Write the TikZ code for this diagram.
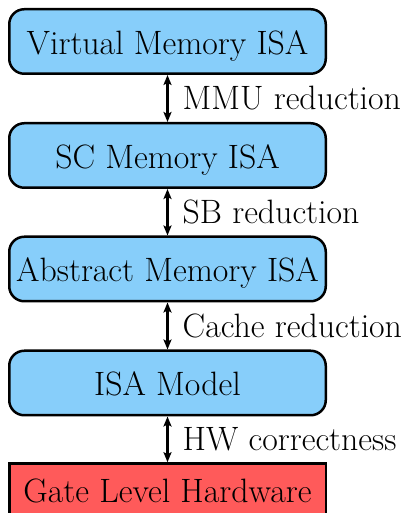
\documentclass[tikz,border=0pt]{standalone}
\usepackage{fontspec}
\usetikzlibrary{arrows.meta}
\definecolor{isablue}{RGB}{135,206,250}
\definecolor{hwred}{RGB}{255,90,90}
\newcommand{\bigtext}{\fontsize{33.8}{40}\selectfont}
\tikzset{
  isabox/.style={draw=black, line width=2.5pt, fill=isablue, rounded corners=15pt,
    minimum width=316.5pt, minimum height=64.5pt, inner sep=0pt, font=\bigtext,
    text height=31pt, text depth=5.4pt},
  hwbox/.style={draw=black, line width=2.5pt, fill=hwred,
    minimum width=316.5pt, inner sep=0pt, font=\bigtext,
    text height=31pt, text depth=13.4pt},
  link/.style={line width=2.2pt, {Stealth[length=10pt,width=8pt,inset=2pt]}-{Stealth[length=10pt,width=8pt,inset=2pt]}},
  steplabel/.style={anchor=west, inner sep=0pt, font=\bigtext}
}
\begin{document}
\begin{tikzpicture}[x=1pt,y=1pt]
\useasboundingbox (0,0) rectangle (406,513);
\begin{scope}
\clip (0,0) rectangle (406,513);
\node[isabox] (vm) at (167.5,471.5) {Virtual Memory ISA};
\node[isabox] (sc) at (167.5,357.5) {SC Memory ISA};
\node[isabox] (am) at (167.5,244) {Abstract Memory ISA};
\node[isabox] (isa) at (167.5,130) {ISA Model};
\node[hwbox, anchor=north, minimum height=60pt] (hw) at (167.5,50.8) {Gate Level Hardware};

\draw[link] (vm.south) -- (sc.north) coordinate[midway] (m1);
\draw[link] (sc.south) -- (am.north) coordinate[midway] (m2);
\draw[link] (am.south) -- (isa.north) coordinate[midway] (m3);
\draw[link] (isa.south) -- (hw.north) coordinate[midway] (m4);
\end{scope}
\node[steplabel, xshift=15pt] (l1) at (m1) {MMU reduction};
\node[steplabel, xshift=15pt] (l2) at (m2) {SB reduction};
\node[steplabel, xshift=15pt] (l3) at (m3) {Cache reduction};
\node[steplabel, xshift=15pt] (l4) at (m4) {HW correctness};
\end{tikzpicture}
\end{document}
